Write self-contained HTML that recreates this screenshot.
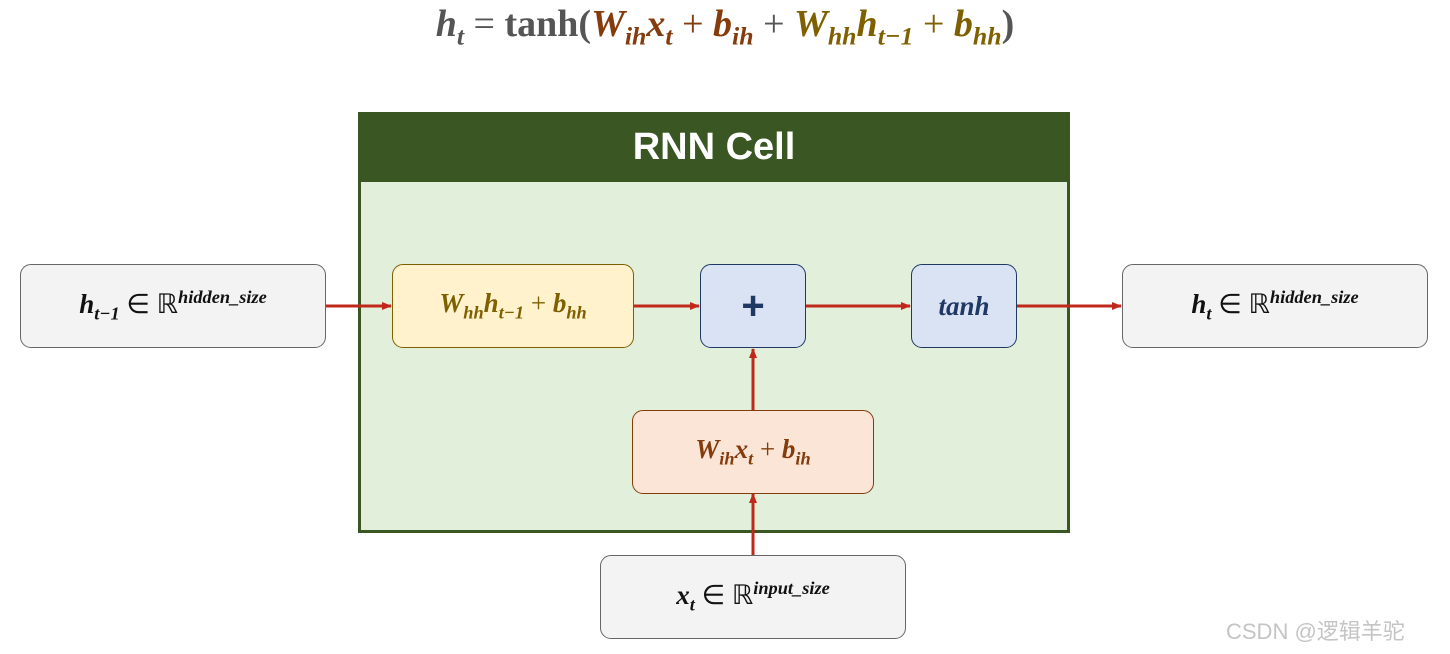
<!DOCTYPE html>
<html><head><meta charset="utf-8"><style>
body{margin:0;width:1450px;height:654px;background:#fff;position:relative;overflow:hidden;font-family:"Liberation Serif",serif}
.b{position:absolute;box-sizing:border-box;border-radius:11px;display:flex;align-items:center;justify-content:center;font-weight:bold;font-style:italic;font-size:27px}
sub,sup{font-size:0.68em}
.n{font-style:normal}
</style></head><body>
<div style="position:absolute;left:0;width:1450px;top:2px;text-align:center;font-size:38px;font-weight:bold;color:#555"><i>h<sub>t</sub></i> <span class="n" style="font-weight:normal">=</span> tanh(<i style="color:#843c0c">W<sub>ih</sub>x<sub>t</sub></i> <span style="color:#843c0c;font-weight:normal">+</span> <i style="color:#843c0c">b<sub>ih</sub></i> <span style="font-weight:normal">+</span> <i style="color:#7f6000">W<sub>hh</sub>h<sub>t−1</sub></i> <span style="color:#7f6000;font-weight:normal">+</span> <i style="color:#7f6000">b<sub>hh</sub></i>)</div>
<div style="position:absolute;left:358px;top:112px;width:712px;height:421px;box-sizing:border-box;border:3px solid #3a5723;background:#e2efda"></div>
<div style="position:absolute;left:358px;top:112px;width:712px;height:70px;background:#3a5723;color:#fff;font-family:'Liberation Sans',sans-serif;font-weight:bold;font-size:38px;display:flex;align-items:center;justify-content:center">RNN Cell</div>
<svg style="position:absolute;left:0;top:0" width="1450" height="654">
<defs><marker id="a" markerWidth="10" markerHeight="8" refX="9" refY="4" orient="auto" markerUnits="userSpaceOnUse"><path d="M0,0L10,4L0,8z" fill="#c0281b"/></marker></defs>
<g stroke="#c0281b" stroke-width="3" fill="none" marker-end="url(#a)">
<line x1="326" y1="306" x2="391" y2="306"/>
<line x1="634" y1="306" x2="699" y2="306"/>
<line x1="806" y1="306" x2="910" y2="306"/>
<line x1="1017" y1="306" x2="1121" y2="306"/>
<line x1="753" y1="410" x2="753" y2="349"/>
<line x1="753" y1="555" x2="753" y2="494"/>
</g></svg>
<div class="b" style="left:20px;top:264px;width:306px;height:84px;background:#f3f3f3;border:1.5px solid #666;color:#111"><span>h<sub>t−1</sub> <span class="n" style="font-weight:normal">∈ ℝ</span><sup>hidden_size</sup></span></div>
<div class="b" style="left:392px;top:264px;width:242px;height:84px;background:#fff2cc;border:1.5px solid #7f6000;color:#7f6000"><span>W<sub>hh</sub>h<sub>t−1</sub> <span class="n" style="font-weight:normal">+</span> b<sub>hh</sub></span></div>
<div class="b" style="left:700px;top:264px;width:106px;height:84px;background:#dae3f3;border:1.5px solid #203864;color:#203864;font-style:normal;font-family:'Liberation Sans',sans-serif;font-size:40px">+</div>
<div class="b" style="left:911px;top:264px;width:106px;height:84px;background:#dae3f3;border:1.5px solid #203864;color:#203864">tanh</div>
<div class="b" style="left:1122px;top:264px;width:306px;height:84px;background:#f3f3f3;border:1.5px solid #666;color:#111"><span>h<sub>t</sub> <span class="n" style="font-weight:normal">∈ ℝ</span><sup>hidden_size</sup></span></div>
<div class="b" style="left:632px;top:410px;width:242px;height:84px;background:#fbe5d6;border:1.5px solid #843c0c;color:#843c0c"><span>W<sub>ih</sub>x<sub>t</sub> <span class="n" style="font-weight:normal">+</span> b<sub>ih</sub></span></div>
<div class="b" style="left:600px;top:555px;width:306px;height:84px;background:#f3f3f3;border:1.5px solid #666;color:#111"><span>x<sub>t</sub> <span class="n" style="font-weight:normal">∈ ℝ</span><sup>input_size</sup></span></div>
<div style="position:absolute;left:1226px;top:614px;font-family:'Liberation Sans','Noto Sans CJK SC',sans-serif;font-size:22px;color:#c4c4c4">CSDN @逻辑羊驼</div>
</body></html>
